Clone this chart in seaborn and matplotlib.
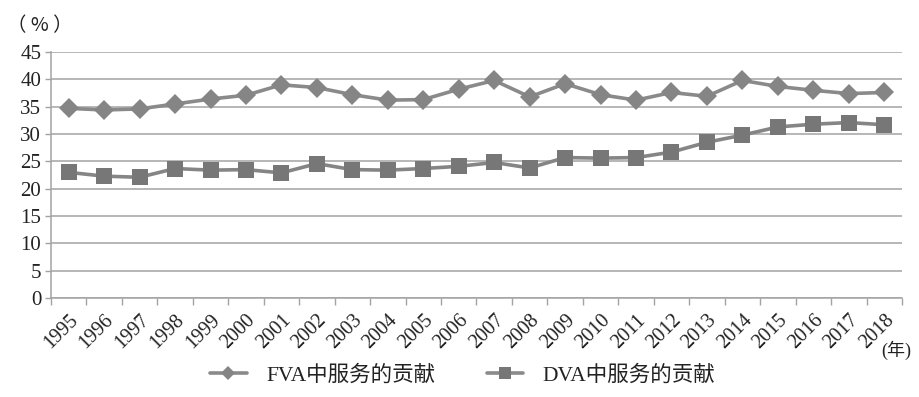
import numpy as np
import pandas as pd
import matplotlib
matplotlib.use("Agg")
import matplotlib.pyplot as plt
import seaborn as sns
from matplotlib.lines import Line2D

years = [str(y) for y in range(1995, 2019)]
fva_services = [34.7, 34.4, 34.6, 35.5, 36.4, 37.1, 39.0, 38.5, 37.2, 36.2, 36.3, 38.2,
                39.8, 36.8, 39.2, 37.2, 36.2, 37.6, 36.9, 39.8, 38.7, 38.0, 37.4, 37.6]
dva_services = [23.0, 22.3, 22.1, 23.7, 23.4, 23.5, 22.9, 24.6, 23.5, 23.4, 23.7, 24.1,
                24.8, 23.8, 25.7, 25.6, 25.7, 26.7, 28.5, 29.8, 31.3, 31.8, 32.1, 31.7]
series_names = ["FVA中服务的贡献", "DVA中服务的贡献"]
y_ticks = [0, 5, 10, 15, 20, 25, 30, 35, 40, 45]

sns.set_theme(style="white")
plt.rcParams["font.family"] = ["Liberation Serif", "Noto Sans CJK SC", "DejaVu Sans"]

df = pd.DataFrame({
    "year": years * 2,
    "value": fva_services + dva_services,
    "series": [series_names[0]] * len(years) + [series_names[1]] * len(years),
})

line_color = "#8a8a8a"
grid_color = "#a3a3a3"
text_color = "#222222"

fig = plt.figure(figsize=(9.2, 3.97), dpi=100)
ax = fig.add_axes([0.0554, 0.249, 0.925, 0.620])

sns.lineplot(data=df, x="year", y="value", hue="series", style="series",
             palette=[line_color, "#858585"], markers=["D", "s"], dashes=False,
             markersize=10, linewidth=2.6, markeredgewidth=0, legend=False, ax=ax,
             sort=False)
for ln, mc, ms in zip(ax.lines, ["#858585", "#777777"], [10, 11]):
    ln.set_markerfacecolor(mc)
    ln.set_markersize(ms)

ax.set_xlim(-0.5, len(years) - 0.5)
ax.set_ylim(0, 45)
ax.set_yticks(y_ticks)
ax.set_yticklabels([str(t) for t in y_ticks], fontsize=15, color=text_color)
ax.yaxis.grid(True, color=grid_color, linewidth=1.1)
ax.set_axisbelow(True)

ax.set_xticks(range(len(years)))
ax.set_xticklabels(years, rotation=45, ha="right", va="top",
                   rotation_mode="anchor", fontsize=14.5, color=text_color)
ax.set_xticks(np.arange(-0.5, len(years)), minor=True)
ax.tick_params(axis="x", which="major", length=0, pad=9)
ax.tick_params(axis="x", which="minor", length=5, width=1, color=grid_color,
               direction="out", bottom=True)
ax.tick_params(axis="y", length=4, width=1, color=grid_color, left=True, pad=3)
ax.set_xlabel("")
ax.set_ylabel("")

for side in ["top", "right"]:
    ax.spines[side].set_visible(False)
ax.spines["left"].set_color(grid_color)
ax.spines["bottom"].set_color(grid_color)
ax.spines["left"].set_linewidth(1.1)
ax.spines["bottom"].set_linewidth(1.1)

fig.text(0.008, 0.935, "（ % ）", fontsize=14, color=text_color,
         family=["Noto Sans CJK SC"], va="center", ha="left")
fig.text(0.958, 0.118, "(年)", fontsize=13, color=text_color,
         family=["Liberation Serif", "Noto Sans CJK SC"], va="center", ha="left")

handles = [
    Line2D([], [], color=line_color, linewidth=2.6, marker="D", markersize=7,
           markerfacecolor="#858585", markeredgewidth=0),
    Line2D([], [], color=line_color, linewidth=2.6, marker="s", markersize=8,
           markerfacecolor="#777777", markeredgewidth=0),
]
fig.legend(handles, series_names, loc="center", bbox_to_anchor=(0.503, 0.055),
           ncol=2, frameon=False, fontsize=15.5, handlelength=1.7,
           columnspacing=2.4, handletextpad=0.9, labelcolor=text_color)

fig.savefig("out.png", dpi=100)
